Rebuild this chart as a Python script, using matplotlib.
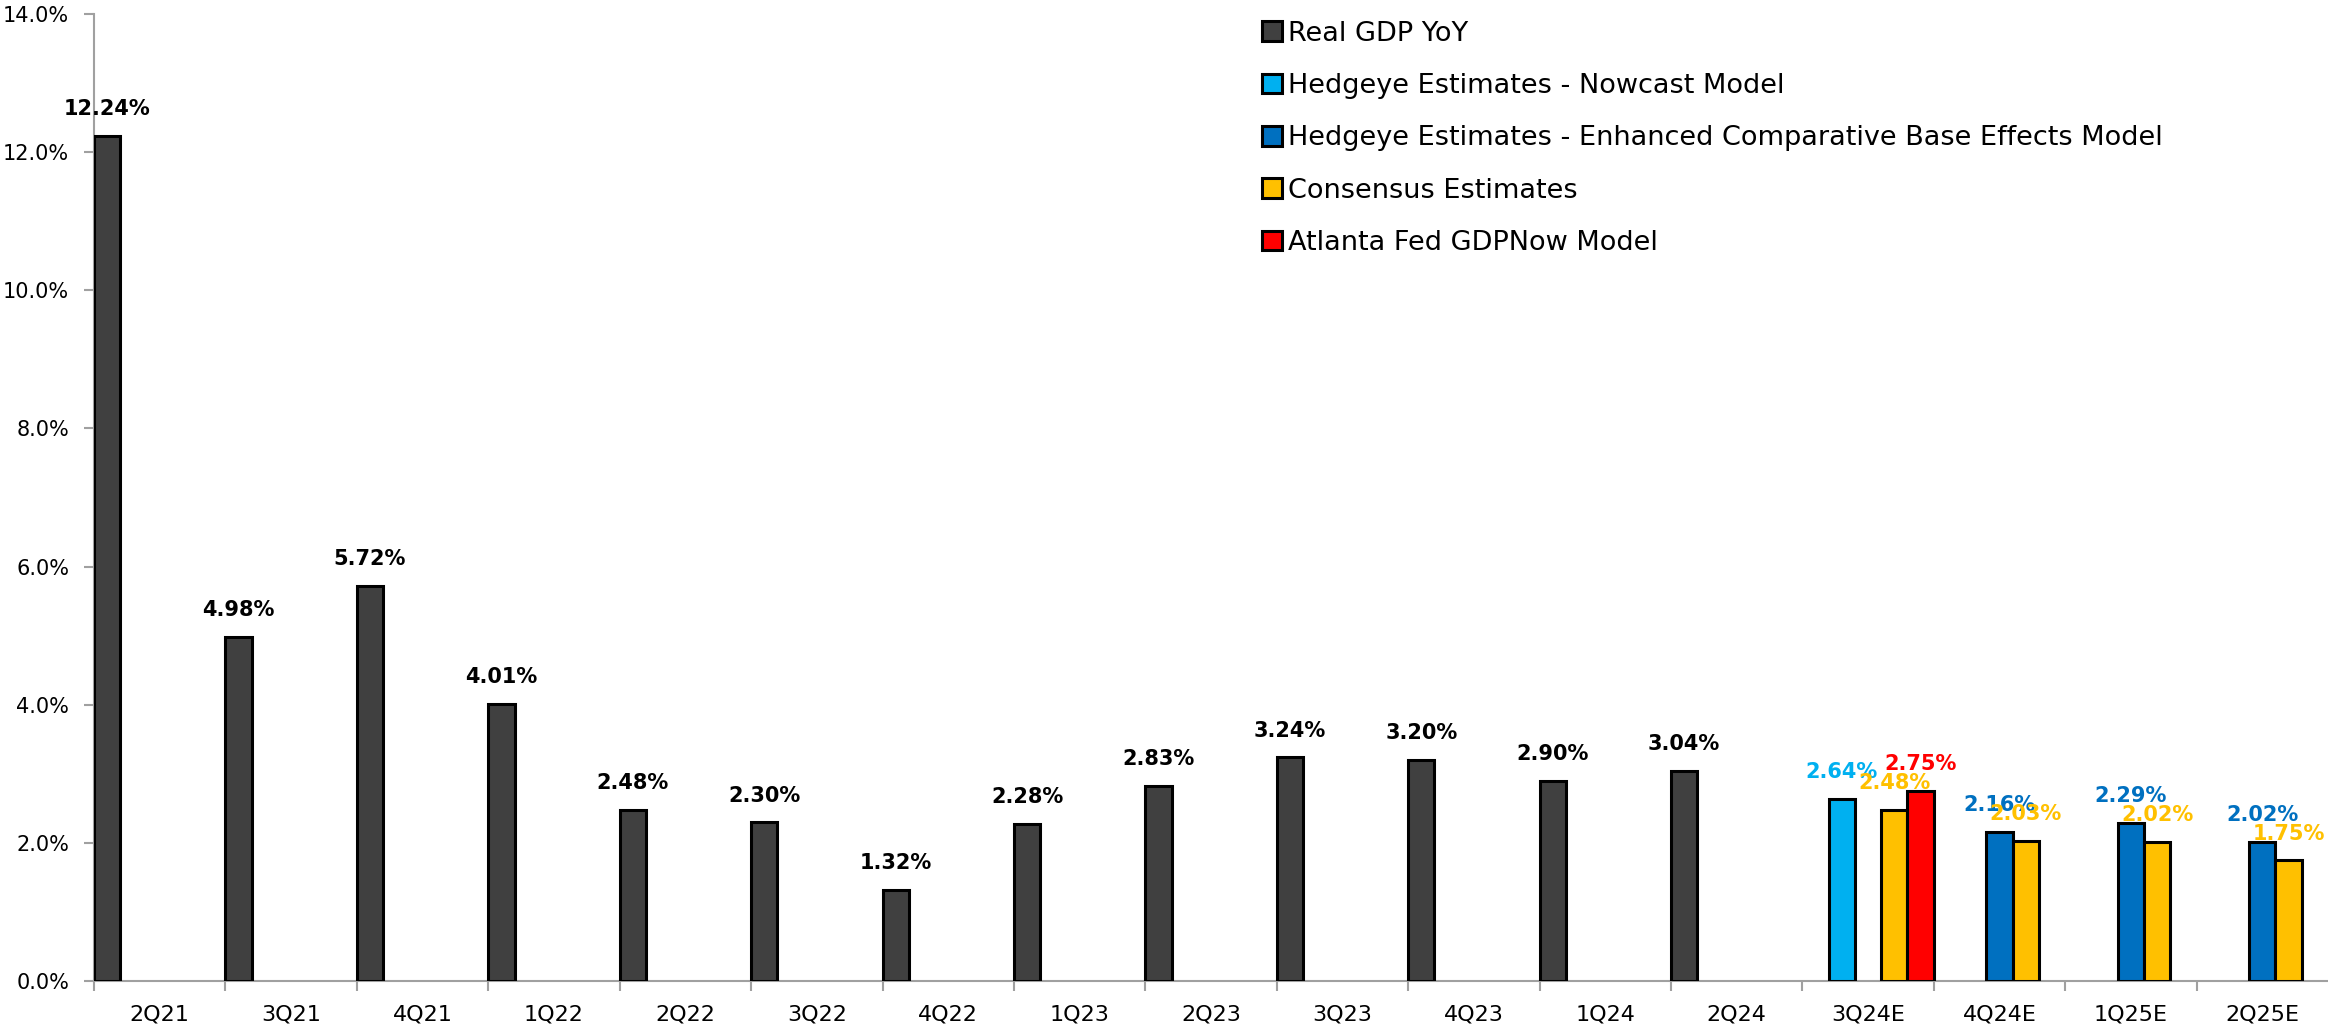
import numpy as np
import matplotlib
matplotlib.use("Agg")
from matplotlib import pyplot as plt
from matplotlib.patches import Patch

plt.rcParams['font.family'] = ['DejaVu Sans']

quarters = ['2Q21', '3Q21', '4Q21', '1Q22', '2Q22', '3Q22', '4Q22', '1Q23', '2Q23',
            '3Q23', '4Q23', '1Q24', '2Q24', '3Q24E', '4Q24E', '1Q25E', '2Q25E']
nan = np.nan
real_gdp = [12.24, 4.98, 5.72, 4.01, 2.48, 2.30, 1.32, 2.28, 2.83, 3.24, 3.20, 2.90, 3.04,
            nan, nan, nan, nan]
nowcast = [nan] * 13 + [2.64, nan, nan, nan]
enhanced = [nan] * 14 + [2.16, 2.29, 2.02]
consensus = [nan] * 13 + [2.48, 2.03, 2.02, 1.75]
atlanta = [nan] * 13 + [2.75, nan, nan, nan]

# name, values, bar colour, label colour
series = [
    ('Real GDP YoY', real_gdp, '#404040', 'black'),
    ('Hedgeye Estimates - Nowcast Model', nowcast, '#00B0F0', '#00B0F0'),
    ('Hedgeye Estimates - Enhanced Comparative Base Effects Model', enhanced, '#0070C0', '#0070C0'),
    ('Consensus Estimates', consensus, '#FFC000', '#FFC000'),
    ('Atlanta Fed GDPNow Model', atlanta, '#FF0000', '#FF0000'),
]

fig = plt.figure(figsize=(23.28, 10.29), dpi=100)
ax = fig.add_axes([0.0404, 0.0466, 0.9596, 0.9398])

x = np.arange(len(quarters))
slot = 0.2  # five slots per quarter
handles = []
for j, (name, vals, color, lab_color) in enumerate(series):
    vals = np.array(vals, dtype=float)
    ok = ~np.isnan(vals)
    bars = ax.bar(x[ok] + j * slot, vals[ok], width=slot, align='edge',
                  color=color, edgecolor='black', linewidth=2.2, zorder=3)
    for b, v in zip(bars, vals[ok]):
        ax.annotate(f'{v:.2f}%', (b.get_x() + b.get_width() / 2, v),
                    xytext=(0, 12), textcoords='offset points',
                    ha='center', va='bottom', fontsize=15,
                    color=lab_color, fontweight='bold', zorder=4)
    handles.append(Patch(facecolor=color, edgecolor='black', linewidth=2.2, label=name))

ax.set_xlim(0, len(quarters))
ax.set_ylim(0, 14)
yt = np.arange(0, 14.1, 2)
ax.set_yticks(yt)
ax.set_yticklabels([f'{v:.1f}%' for v in yt], fontsize=15)

ax.set_xticks(x)
ax.set_xticklabels([])
ax.set_xticks(x + 0.5, minor=True)
ax.set_xticklabels(quarters, minor=True, fontsize=16)
ax.tick_params(axis='x', which='minor', length=0, pad=17)
ax.tick_params(axis='x', which='major', length=7, color='#a0a0a0', width=1.5)
ax.tick_params(axis='y', length=7, color='#a0a0a0', width=1.5, pad=11)

for s in ['top', 'right']:
    ax.spines[s].set_visible(False)
for s in ['left', 'bottom']:
    ax.spines[s].set_color('#a0a0a0')
    ax.spines[s].set_linewidth(1.5)

ax.legend(handles=handles, loc='upper left', bbox_to_anchor=(0.523, 0.993),
          frameon=False, fontsize=19.5, handlelength=0.74, handleheight=0.74,
          handletextpad=0.22, labelspacing=0.97, borderaxespad=0, borderpad=0)

fig.savefig('out.png', dpi=100)
